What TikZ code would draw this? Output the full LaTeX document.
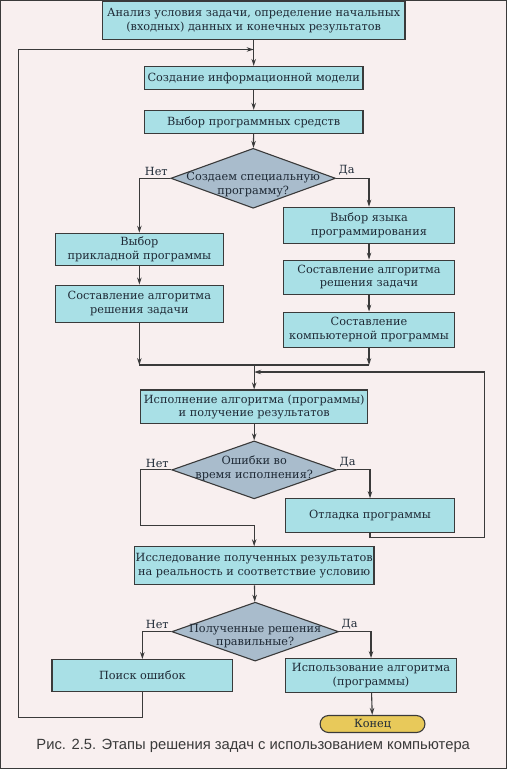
\documentclass[tikz,border=0pt]{standalone}
\usepackage{fontspec}
\setmainfont{DejaVu Serif}
\newfontfamily\capfont{Liberation Sans}
\usetikzlibrary{shapes.geometric, arrows.meta}
\definecolor{paper}{HTML}{F8EFEF}
\definecolor{stagefill}{HTML}{A9E0E6}
\definecolor{askfill}{HTML}{A9BCCC}
\definecolor{endfill}{HTML}{E8C95A}
\definecolor{ink}{HTML}{3A3A3A}
\definecolor{letters}{HTML}{1F2A36}
% text of a question, kept out of the diamond's size (#1 = downward shift)
\newcommand{\asktext}[2][0pt]{\smash{\makebox[0pt]{\raisebox{\dimexpr-0.3em-#1\relax}{\begin{tabular}{@{}c@{}}#2\end{tabular}}}}}

\begin{document}
\begin{tikzpicture}[x=1pt, y=-1pt,
    font=\fontsize{11.3}{13.5}\selectfont,
    every path/.style={draw=ink, line width=1.1pt},
    link/.style={-{Stealth[length=7pt, width=4.5pt]}},
    stage/.style={draw=ink, fill=stagefill, text=letters, align=center, inner sep=1pt},
    ask/.style={diamond, draw=ink, fill=askfill, text=letters, inner sep=0pt},
    answer/.style={text=letters, inner sep=2pt}]

    % 1. Page and its margins
    \fill[paper] (0,0) rectangle (507,769);
    \useasboundingbox (0,0) rectangle (507,769);

    % 2. Main column
    \node[stage, minimum width=303, minimum height=38] (start) at (253.5,20)
        {Анализ условия задачи, определение начальных\\(входных) данных и конечных результатов};
    \node[stage, minimum width=219, minimum height=23] (model) at (253.5,77.5)
        {Создание информационной модели};
    \node[stage, minimum width=219, minimum height=23] (tools) at (253.5,121.5)
        {Выбор программных средств};
    \node[ask, minimum width=165, minimum height=60] (special) at (253,178)
        {\asktext[6pt]{Создаем специальную\\программу?}};

    % 3. Left branch (ready-made program)
    \node[stage, minimum width=168, minimum height=32] (app) at (139,249)
        {Выбор\\прикладной программы};
    \node[stage, minimum width=168, minimum height=37] (algL) at (139,303.5)
        {Составление алгоритма\\решения задачи};

    % 4. Right branch (own program)
    \node[stage, minimum width=171, minimum height=36] (lang) at (369,225)
        {Выбор языка\\программирования};
    \node[stage, minimum width=171, minimum height=34] (algR) at (369,277)
        {Составление алгоритма\\решения задачи};
    \node[stage, minimum width=171, minimum height=35] (prog) at (369,329.5)
        {Составление\\компьютерной программы};

    % 5. Running and debugging
    \node[stage, minimum width=227, minimum height=34] (run) at (254,407)
        {Исполнение алгоритма (программы)\\и получение результатов};
    \node[ask, minimum width=165, minimum height=58] (bugs) at (254,470)
        {\asktext[-1.5pt]{Ошибки во\\время исполнения?}};
    \node[stage, minimum width=170, minimum height=34] (debug) at (370,516)
        {Отладка программы};
    \node[stage, minimum width=240, minimum height=38] (check) at (254,566)
        {Исследование полученных результатов\\на реальность и соответствие условию};
    \node[ask, minimum width=167, minimum height=59] (right) at (255,632)
        {\asktext[4pt]{Полученные решения\\правильные?}};
    \node[stage, minimum width=181, minimum height=32] (search) at (142,676)
        {Поиск ошибок};
    \node[stage, minimum width=171, minimum height=34] (use) at (371,676)
        {Использование алгоритма\\(программы)};
    \node[draw=ink, fill=endfill, text=letters, rounded corners=8.5pt, minimum width=105,
        minimum height=17, inner sep=1pt] (stop) at (372.5,724.5) {Конец};

    % 6. Answers
    \foreach \q in {special, bugs, right} {
        \node[answer, anchor=south east] at (\q.west) {Нет};
        \node[answer, anchor=south west] at (\q.east) {Да};
    }

    % 7. Junction points
    \coordinate (merge) at (254,365);
    \coordinate (back) at (485,372);
    \coordinate (join) at (140,526);
    \coordinate (loop) at (18,718);
    \coordinate (top) at (253.5,49);

    % 8. Connectors
    \draw[link] (start) -- (model);
    \draw[link] (model) -- (tools);
    \draw[link] (tools) -- (special);
    \draw[link] (special.west) -| (app.north);
    \draw[link] (special.east) -| (lang.north);
    \draw[link] (app) -- (algL);
    \draw[link] (lang) -- (algR);
    \draw[link] (algR) -- (prog);
    \draw[link] (algL.south) -- (algL.south |- merge);
    \draw[link] (prog.south) -- (prog.south |- merge);
    \draw (algL.south |- merge) -- (prog.south |- merge);
    \draw[link] (merge) -- (run.north);
    \draw[link] (debug.south) -- ++(0,4) -| (back) -- (back -| run.north);
    \draw[link] (run) -- (bugs);
    \draw[link] (bugs.east) -| (debug.north);
    \draw[link] (bugs.west) -| (join) -- (join -| check.north) -- (check.north);
    \draw[link] (check) -- (right);
    \draw[link] (right.west) -| (search.north);
    \draw[link] (right.east) -| (use.north);
    \draw[link] (use) -- (stop);
    \draw[link] (search.south) |- (loop) |- (top);

    % 9. Caption
    \node[font=\capfont\fontsize{14.8}{17}\selectfont, text=ink] (caption) at (253,746)
        {Рис. 2.5. Этапы решения задач с использованием компьютера};

\end{tikzpicture}
\end{document}
